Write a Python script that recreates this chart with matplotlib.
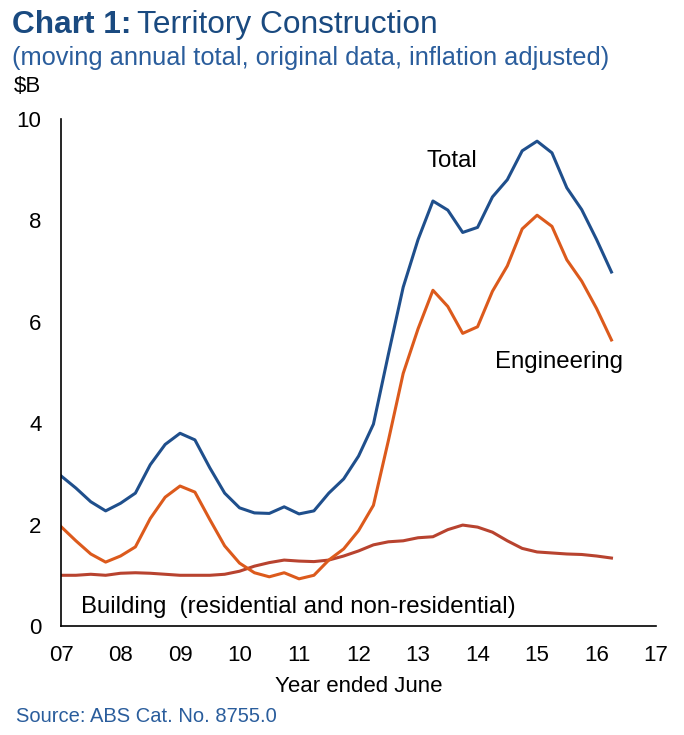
import matplotlib.pyplot as plt
import numpy as np

plt.rcParams['font.family'] = ['Liberation Sans', 'DejaVu Sans']

# quarterly observations, year ended June 2007 .. March 2016
quarters = 2007 + np.arange(38) * 0.25

total = [2.96, 2.72, 2.45, 2.27, 2.42, 2.62, 3.18, 3.58, 3.80, 3.67, 3.12, 2.62,
         2.33, 2.23, 2.22, 2.35, 2.21, 2.27, 2.62, 2.90, 3.35, 3.98, 5.35, 6.68,
         7.62, 8.38, 8.20, 7.76, 7.86, 8.46, 8.80, 9.37, 9.56, 9.33, 8.64, 8.21,
         7.62, 6.98]
engineering = [1.96, 1.68, 1.42, 1.26, 1.38, 1.56, 2.12, 2.54, 2.76, 2.64, 2.10, 1.58,
               1.24, 1.05, 0.97, 1.05, 0.93, 1.00, 1.30, 1.52, 1.88, 2.38, 3.65, 4.98,
               5.86, 6.62, 6.30, 5.77, 5.90, 6.60, 7.10, 7.83, 8.10, 7.88, 7.22, 6.80,
               6.26, 5.64]
building = [1.00, 1.00, 1.02, 1.00, 1.04, 1.05, 1.04, 1.02, 1.00, 1.00, 1.00, 1.02,
            1.08, 1.18, 1.25, 1.30, 1.28, 1.27, 1.30, 1.38, 1.48, 1.60, 1.66, 1.68,
            1.74, 1.76, 1.90, 1.99, 1.95, 1.85, 1.68, 1.53, 1.46, 1.44, 1.42, 1.41,
            1.38, 1.34]

year_ticks = np.arange(2007, 2018)
year_labels = [f"{y % 100:02d}" for y in year_ticks]

title_blue = '#1a4a80'
text_blue = '#2a5d9c'

fig = plt.figure(figsize=(6.84, 7.35), dpi=100)
fig.patch.set_facecolor('white')
ax = fig.add_axes([0.0892, 0.1483, 0.870, 0.690])

ax.plot(quarters, building, color='#b8432f', lw=2.2)
ax.plot(quarters, engineering, color='#dc5a1c', lw=2.2)
ax.plot(quarters, total, color='#1f4f8c', lw=2.2)

ax.set_xlim(2007, 2017)
ax.set_ylim(0, 10)
ax.set_xticks(year_ticks)
ax.set_xticklabels(year_labels)
ax.set_yticks(np.arange(0, 11, 2))
ax.tick_params(length=0, labelsize=16)
ax.tick_params(axis='x', pad=14)
ax.tick_params(axis='y', pad=14)
for side in ['top', 'right']:
    ax.spines[side].set_visible(False)
for side in ['left', 'bottom']:
    ax.spines[side].set_linewidth(1.2)

# series labels
ax.text(2013.15, 9.17, 'Total', fontsize=17.3, va='center')
ax.text(2014.3, 5.2, 'Engineering', fontsize=17.3, va='center')
ax.text(2007.33, 0.37, 'Building  (residential and non-residential)', fontsize=17.3, va='center')

ax.set_xlabel('Year ended June', fontsize=16, labelpad=7)

# heading
t1 = fig.text(12 / 684, 1 - 25 / 735, 'Chart 1:', fontsize=22.8, fontweight='bold',
              color=title_blue, va='center')
fig.canvas.draw()
bb = t1.get_window_extent()
fig.text(bb.x1 / fig.bbox.width + 6 / 684, 1 - 25 / 735, 'Territory Construction',
         fontsize=22.8, color=title_blue, va='center')
fig.text(12 / 684, 1 - 58 / 735, '(moving annual total, original data, inflation adjusted)',
         fontsize=18.3, color=text_blue, va='center')
fig.text(14 / 684, 1 - 87 / 735, '$B', fontsize=16, va='center')

fig.text(16 / 684, 1 - 716 / 735, 'Source: ABS Cat. No. 8755.0', fontsize=14.5,
         color=text_blue, va='center')

fig.savefig('out.png', dpi=100, facecolor='white')
